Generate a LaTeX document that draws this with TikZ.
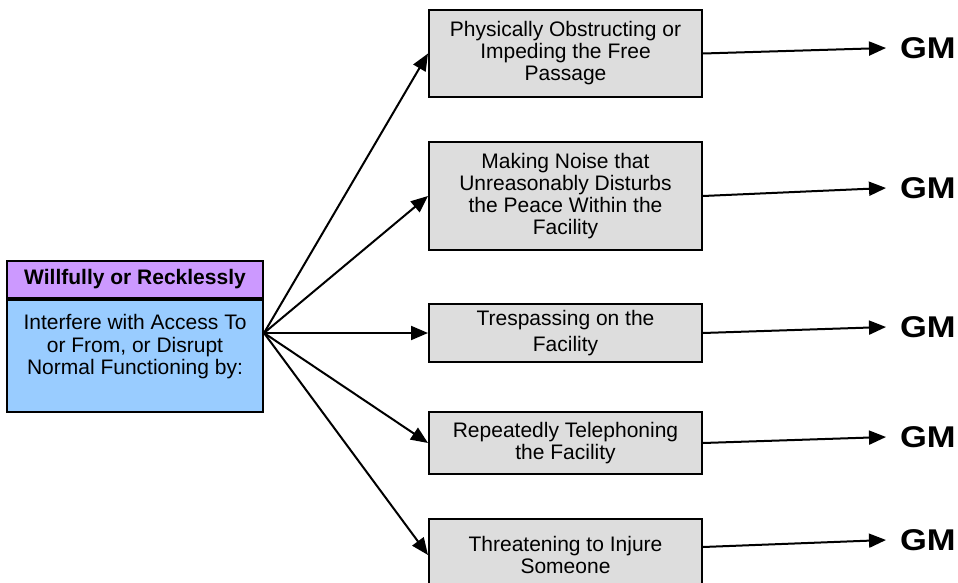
\documentclass[tikz,border=0pt]{standalone}
\usepackage{fontspec}
\setmainfont{Liberation Sans}
\newfontfamily\gmfont[FakeStretch=1.15]{Liberation Sans}
\usetikzlibrary{arrows.meta,positioning}

\definecolor{hdrpurple}{HTML}{CC99FF}
\definecolor{actblue}{HTML}{99CCFF}
\definecolor{waygray}{HTML}{DDDDDD}

\begin{document}
\begin{tikzpicture}[x=0.5pt,y=-0.5pt,line width=1pt,
	arr/.style={-{Triangle[length=8.5pt,width=7pt]}},
	txt/.style={font=\fontsize{10.5pt}{11pt}\selectfont},
	way/.style={draw,fill=waygray,minimum width=136.5pt,align=center,inner sep=0pt,txt},
	gm/.style={anchor=west,inner xsep=6.5pt,inner ysep=0pt,font=\gmfont\bfseries\fontsize{15pt}{16pt}\selectfont}]
	\clip (0,0) rectangle (958,583);

	% Left: the act and its header
	\node[draw,fill=actblue,minimum width=128pt,minimum height=56pt,inner sep=0pt,align=center,
		font=\fontsize{10.5pt}{11.3pt}\selectfont] (act) at (135,356)
		{Interfere with Access To\\or From, or Disrupt\\Normal Functioning by:\\~};
	\node[draw,fill=hdrpurple,minimum width=128pt,minimum height=18.5pt,inner sep=0pt,
		font=\bfseries\fontsize{10.5pt}{11pt}\selectfont,above=0pt of act] (hdr) {Willfully or Recklessly};
	\coordinate (fan) at ([yshift=11.5pt]act.east);

	% The five ways
	\node[way,minimum height=43.5pt] (w1) at (565.5,53.5) {Physically Obstructing or\\Impeding the Free\\Passage};
	\node[way,minimum height=54pt] (w2) at (565.5,196) {Making Noise that\\Unreasonably Disturbs\\the Peace Within the\\Facility};
	\node[way,minimum height=29pt,font=\fontsize{10.5pt}{13pt}\selectfont] (w3) at (565.5,333) {Trespassing on the\\Facility};
	\node[way,minimum height=31pt] (w4) at (565.5,443) {Repeatedly Telephoning\\the Facility};
	\node[way,minimum height=36pt] (w5) at (565.5,555) {Threatening to Injure\\Someone};

	% Grades
	\node[gm] (gm1) at (886,48) {GM};
	\node[gm] (gm2) at (886,188) {GM};
	\node[gm] (gm3) at (886,327) {GM};
	\node[gm] (gm4) at (886,437) {GM};
	\node[gm] (gm5) at (886,540) {GM};

	% Arrows
	\foreach \i in {1,...,5}
		\draw[arr] (fan) -- (w\i.west);
	\draw[arr] (w1.east) -- (gm1.west);
	\draw[arr] (w2.east) -- (gm2.west);
	\draw[arr] (w3.east) -- (gm3.west);
	\draw[arr] (w4.east) -- (gm4.west);
	\draw[arr] ([yshift=4pt]w5.east) -- (gm5.west);
\end{tikzpicture}
\end{document}
